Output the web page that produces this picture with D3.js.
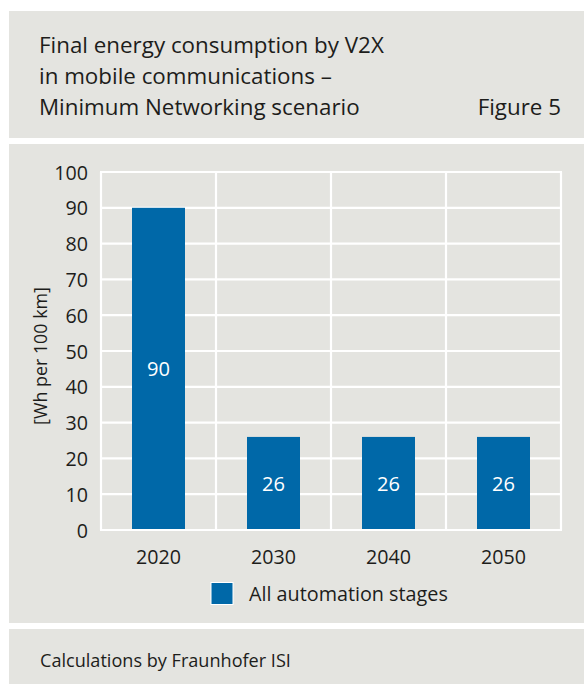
<!DOCTYPE html>
<html>
<head>
<meta charset="utf-8">
<script src="https://cdn.jsdelivr.net/npm/d3@7"></script>
<style>
  html, body { margin: 0; padding: 0; background: #ffffff; }
  svg { display: block; }
  text { font-family: "Open Sans", Roboto, sans-serif; fill: #1d1d1b; }
</style>
</head>
<body>
<script>
// Final energy consumption by V2X, Minimum Networking scenario
const years = ["2020", "2030", "2040", "2050"];
const consumption = [90, 26, 26, 26];
const yTicks = [0, 10, 20, 30, 40, 50, 60, 70, 80, 90, 100];
const titleLines = [
  "Final energy consumption by V2X",
  "in mobile communications \u2013",
  "Minimum Networking scenario"
];
const figureLabel = "Figure 5";
const unitLabel = "[Wh per 100 km]";
const seriesName = "All automation stages";
const sourceNote = "Calculations by Fraunhofer ISI";

const W = 584, H = 684;
const panelFill = "#e4e4e0";
const barFill = "#0068a8";

const svg = d3.select("body").append("svg")
  .attr("width", W).attr("height", H);

// font size that makes a sample string span a given width
function sizeFor(sample, width) {
  const t = svg.append("text").style("font-size", "20px").text(sample);
  const w = t.node().getComputedTextLength();
  t.remove();
  return 20 * width / w;
}
const fsTitle = sizeFor(titleLines[0], 345);
const fsTick = sizeFor("2020", 45);
const fsValue = sizeFor("90", 23);
const fsLegend = sizeFor(seriesName, 199);
const fsFooter = sizeFor(sourceNote, 251);
const fsUnit = sizeFor(unitLabel, 138);

// three grey panels: header, chart, footer
svg.append("rect").attr("x", 9).attr("y", 11).attr("width", W - 9).attr("height", 127).attr("fill", panelFill);
svg.append("rect").attr("x", 9).attr("y", 144).attr("width", W - 9).attr("height", 479).attr("fill", panelFill);
svg.append("rect").attr("x", 9).attr("y", 629).attr("width", W - 9).attr("height", H - 629).attr("fill", panelFill);

// header
svg.append("g").selectAll("text").data(titleLines).join("text")
  .attr("x", 39).attr("y", (d, i) => 53 + i * 31)
  .style("font-size", fsTitle + "px")
  .text(d => d);
svg.append("text").attr("x", 561).attr("y", 115).attr("text-anchor", "end")
  .style("font-size", fsTitle + "px").text(figureLabel);

// plot area
const plot = { left: 101, right: 561, top: 172, bottom: 530 };
const x = d3.scaleBand().domain(years).range([plot.left, plot.right]).paddingInner(0).paddingOuter(0);
const y = d3.scaleLinear().domain([0, 100]).range([plot.bottom, plot.top]);
const barW = 53;

const grid = svg.append("g").attr("stroke", "#ffffff").attr("stroke-width", 2.2);
grid.selectAll("line.h").data(yTicks).join("line").attr("class", "h")
  .attr("x1", plot.left - 1).attr("x2", plot.right + 1)
  .attr("y1", d => y(d)).attr("y2", d => y(d));
const vLines = years.map(d => x(d)).concat([x.range()[1]]);
grid.selectAll("line.v").data(vLines).join("line").attr("class", "v")
  .attr("x1", d => d).attr("x2", d => d)
  .attr("y1", plot.top).attr("y2", plot.bottom);

// bars
svg.append("g").selectAll("rect").data(years).join("rect")
  .attr("x", d => x(d) + x.bandwidth() / 2 - barW / 2)
  .attr("width", barW)
  .attr("y", (d, i) => y(consumption[i]))
  .attr("height", (d, i) => y(0) - y(consumption[i]) - 1)
  .attr("fill", barFill);

// value labels centred inside bars
svg.append("g").selectAll("text").data(years).join("text")
  .attr("x", d => x(d) + x.bandwidth() / 2)
  .attr("y", (d, i) => (y(consumption[i]) + y(0)) / 2)
  .attr("text-anchor", "middle").attr("dy", "0.36em")
  .style("font-size", fsValue + "px").style("fill", "#ffffff")
  .text((d, i) => consumption[i]);

// y axis
const yAxis = svg.append("g").attr("transform", `translate(${plot.left - 13},0)`)
  .call(d3.axisLeft(y).tickValues(yTicks).tickSize(0).tickPadding(0));
yAxis.select(".domain").remove();
yAxis.selectAll("text").style("font-size", fsTick + "px").style("fill", "#1d1d1b")
  .attr("font-family", null).attr("dy", "0.36em");

// x axis
const xAxis = svg.append("g").attr("transform", `translate(0,${plot.bottom})`)
  .call(d3.axisBottom(x).tickSize(0).tickPadding(0));
xAxis.select(".domain").remove();
xAxis.selectAll("text").style("font-size", fsTick + "px").style("fill", "#1d1d1b")
  .attr("font-family", null).attr("dy", null).attr("y", 34);

// y axis title
svg.append("text")
  .attr("transform", `translate(47,${(plot.top + plot.bottom) / 2 + 5}) rotate(-90)`)
  .attr("text-anchor", "middle")
  .style("font-size", fsUnit + "px")
  .text(unitLabel);

// legend
svg.append("rect").attr("x", 211).attr("y", 582.5).attr("width", 22).attr("height", 22)
  .attr("fill", barFill).attr("stroke", "#ffffff").attr("stroke-width", 1);
svg.append("text").attr("x", 249).attr("y", 601)
  .style("font-size", fsLegend + "px").text(seriesName);

// footer
svg.append("text").attr("x", 40).attr("y", 667)
  .style("font-size", fsFooter + "px").text(sourceNote);
</script>
</body>
</html>
